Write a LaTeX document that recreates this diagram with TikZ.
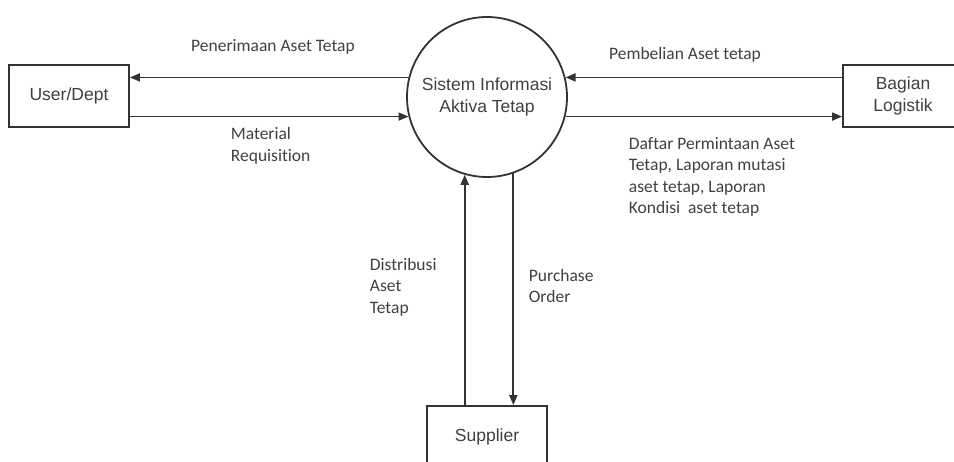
\documentclass[tikz,border=0pt]{standalone}
\usepackage{fontspec}
\setmainfont{Liberation Sans}
\newfontfamily\labelfont[Ligatures=NoCommon]{Carlito}
\usetikzlibrary{arrows.meta}

\begin{document}
\begin{tikzpicture}[x=1pt, y=-1pt,
  line width=1.8pt, draw=black!80,
  entity/.style={draw, rectangle, minimum width=120pt, minimum height=62pt,
    font=\fontsize{17.5}{22}\selectfont, text=black!75, align=center},
  process/.style={draw, circle, minimum size=160pt, inner sep=0pt,
    font=\fontsize{17.5}{22}\selectfont, text=black!75, align=center},
  flowlabel/.style={inner sep=0pt, font=\labelfont\fontsize{17.5}{21.5}\selectfont,
    text=black!75, align=left},
  flow/.style={-{Triangle[length=10pt,width=8pt]}}]
\clip (0,0) rectangle (954,462);

\node[process] (sia) at (487,97) {Sistem Informasi\\Aktiva Tetap};
\node[entity] (user) at (69,96) {User/Dept};
\node[entity] (logistik) at (903,96) {Bagian\\Logistik};
\node[entity] (supplier) at (487,437) {Supplier};

\draw[flow] (sia.166) -- (sia.166 -| user.east);
\draw[flow] (sia.194 -| user.east) -- (sia.194);
\draw[flow] (sia.14 -| logistik.west) -- (sia.14);
\draw[flow] (sia.-14) -- (sia.-14 -| logistik.west);
\draw[flow] (sia.254 |- supplier.north) -- (sia.254);
\draw[flow] (sia.289) -- (sia.289 |- supplier.north);

\node[flowlabel] (lpenerimaan) at (273,47) {Penerimaan Aset Tetap};
\node[flowlabel, anchor=west] (lmaterial) at (230,146) {Material\\Requisition};
\node[flowlabel] (lpembelian) at (685,55) {Pembelian Aset tetap};
\node[flowlabel, anchor=west] (ldaftar) at (628,177) {Daftar Permintaan Aset\\Tetap, Laporan mutasi\\aset tetap, Laporan\\Kondisi\ \ aset tetap};
\node[flowlabel, anchor=west] (ldistribusi) at (369,287) {Distribusi\\Aset\\Tetap};
\node[flowlabel, anchor=west] (lpurchase) at (528,286) {Purchase\\Order};
\end{tikzpicture}
\end{document}
